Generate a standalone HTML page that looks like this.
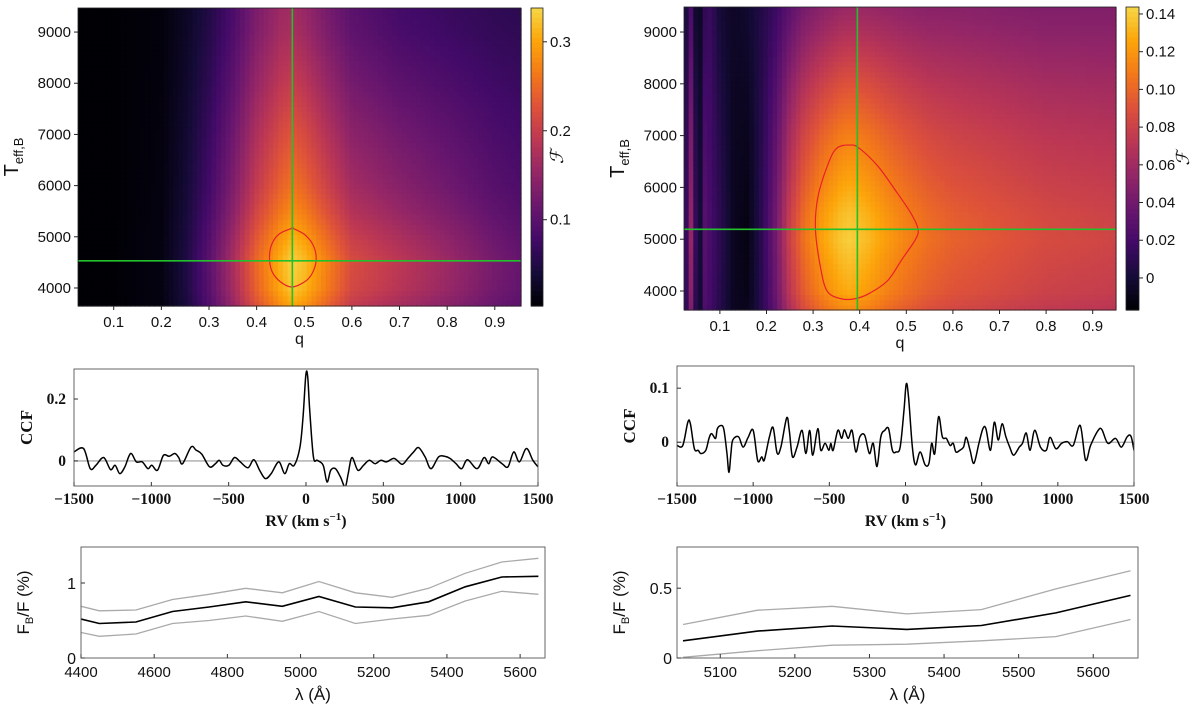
<!DOCTYPE html>
<html><head><meta charset="utf-8">
<style>
html,body{margin:0;padding:0;background:#fff;}
svg{display:block;}
.tk{font-family:"Liberation Sans","DejaVu Sans",sans-serif;font-size:15px;fill:#111;}
.sf{font-family:"Liberation Serif",serif;font-weight:bold;font-size:15.5px;fill:#111;}
</style></head>
<body>
<svg id="fig" width="1200" height="707" viewBox="0 0 1200 707" xmlns="http://www.w3.org/2000/svg"></svg>
<script>
// ---------- DATA ----------
const hmA_q      = [0.025,0.1,0.2,0.25,0.3,0.35,0.4,0.45,0.475,0.5,0.55,0.6,0.7,0.8,0.9,0.955];
const hmA_top    = [0.004,0.004,0.008,0.025,0.05,0.085,0.13,0.16,0.165,0.155,0.125,0.1,0.08,0.07,0.062,0.06];
const hmA_peak   = [0.004,0.004,0.012,0.045,0.1,0.17,0.25,0.31,0.335,0.32,0.27,0.22,0.19,0.16,0.125,0.11];
const hmA_T      = [3648,4000,4500,5000,5500,6000,7000,8000,9000,9470];
const hmA_w      = [0.8,0.95,1,0.85,0.68,0.55,0.38,0.2,0.04,0];
const bestA      = [0.475,4530];
const contA_q    = [0.475,0.5,0.518,0.525,0.52,0.505,0.475,0.45,0.432,0.427,0.432,0.448,0.475];
const contA_T    = [5170,5050,4850,4600,4350,4150,4020,4120,4330,4600,4860,5060,5170];
const hmB_q      = [0.023,0.03,0.04,0.05,0.055,0.065,0.08,0.1,0.13,0.16,0.19,0.22,0.25,0.28,0.32,0.36,0.38,0.42,0.46,0.5,0.55,0.6,0.7,0.8,0.95];
const hmB_top    = [0.0,0.005,0.025,-0.01,-0.012,0.01,0.015,0.0,-0.006,-0.002,0.006,0.016,0.03,0.042,0.05,0.056,0.057,0.056,0.054,0.052,0.05,0.05,0.048,0.046,0.046];
const hmB_peak   = [0.03,0.01,0.065,0.0,-0.012,0.03,0.02,0.01,-0.008,-0.012,0.01,0.04,0.08,0.105,0.125,0.138,0.141,0.133,0.122,0.113,0.104,0.098,0.092,0.086,0.082];
const hmB_T      = [3633,4000,5000,5500,6000,7000,8000,9000,9483];
const hmB_w      = [0.7,0.85,1,0.95,0.85,0.65,0.4,0.12,0];
const bestB      = [0.395,5190];
const contB_q    = [0.38,0.4,0.44,0.48,0.51,0.525,0.52,0.49,0.46,0.42,0.39,0.36,0.33,0.315,0.305,0.31,0.33,0.35];
const contB_T    = [6820,6750,6400,5900,5500,5200,5000,4600,4200,3950,3850,3850,4000,4500,5200,5800,6400,6750];
const ccfA_rv = [-1500,-1438,-1395,-1358,-1308,-1264,-1234,-1204,-1171,-1134,-1097,-1059,-1022,-997,-960,-922,-885,-848,-823,-798,-743,-711,-674,-624,-586,-561,-537,-499,-462,-425,-375,-337,-300,-263,-225,-176,-138,-108,-76,-39,-19,-1,11,24,48,73,111,136,160,190,223,253,273,297,335,372,409,447,484,521,571,621,658,696,728,770,808,857,895,932,970,1007,1044,1106,1151,1181,1206,1268,1306,1343,1380,1425,1467,1500];
const ccfA_v  = [0.029,0.040,-0.025,-0.014,0.011,-0.028,-0.014,-0.041,-0.019,0.024,-0.003,-0.003,-0.025,-0.014,-0.030,0.018,0.015,0.024,0.011,-0.009,0.045,0.035,0.022,-0.019,-0.009,0.002,-0.014,-0.014,0.011,-0.003,-0.022,0.004,-0.030,-0.057,-0.041,-0.003,-0.041,-0.009,-0.014,0.045,0.143,0.278,0.272,0.164,0.013,0.002,-0.014,-0.068,-0.030,-0.025,-0.052,-0.084,-0.041,0.011,-0.030,-0.014,0.002,-0.009,0.002,-0.003,0.008,-0.011,0.008,0.029,0.043,0.013,-0.025,0.013,0.015,0.008,-0.009,-0.025,0.004,-0.025,0.011,-0.009,0.013,-0.009,-0.019,0.029,-0.003,0.040,0.002,-0.019];
const ccfB_rv = [-1500,-1462,-1429,-1412,-1386,-1361,-1343,-1311,-1290,-1273,-1247,-1235,-1210,-1192,-1172,-1159,-1146,-1134,-1096,-1066,-1033,-1000,-970,-944,-927,-894,-869,-843,-818,-780,-763,-742,-712,-679,-654,-629,-609,-576,-556,-528,-503,-490,-475,-444,-419,-401,-376,-351,-326,-300,-268,-237,-212,-187,-162,-136,-111,-86,-61,-35,-10,5,20,45,66,96,129,154,172,192,217,242,268,293,313,331,356,381,399,424,449,482,508,528,558,583,609,634,659,684,710,747,768,793,818,848,886,924,949,987,1025,1063,1101,1147,1182,1215,1265,1290,1328,1379,1417,1455,1480,1500];
const ccfB_v  = [-0.006,-0.006,0.037,0.034,-0.012,-0.015,-0.021,-0.015,0.007,0.016,0.007,0.025,0.031,0.023,-0.021,-0.056,-0.021,0.004,0.010,-0.009,0.009,0.022,-0.034,-0.027,-0.033,0.009,0.027,-0.020,-0.009,0.045,0.022,-0.027,-0.009,0.022,-0.021,0.022,-0.024,0.025,-0.015,-0.002,-0.015,-0.002,-0.015,0.022,0.007,0.023,0.007,0.022,-0.018,0.010,0.013,-0.021,-0.002,-0.045,0.010,0.022,0.025,-0.015,-0.018,-0.009,0.059,0.108,0.083,-0.009,-0.042,-0.018,-0.042,-0.039,-0.002,-0.021,0.047,0.010,0.007,-0.006,-0.002,-0.018,-0.015,-0.009,0.009,-0.015,-0.039,-0.002,0.025,0.025,-0.015,0.037,0.004,0.034,0.010,-0.009,-0.024,-0.009,-0.002,0.017,-0.015,0.022,-0.009,-0.015,0.009,-0.012,-0.002,0.001,-0.006,0.031,-0.033,-0.006,0.022,0.023,-0.002,0.007,-0.009,0.010,0.011,-0.015];
const frA_lam = [4400,4450,4550,4650,4750,4850,4950,5050,5150,5250,5350,5450,5550,5650];
const frA_mid = [0.52,0.46,0.48,0.62,0.68,0.75,0.69,0.82,0.68,0.67,0.75,0.95,1.08,1.09];
const frA_hi  = [0.69,0.63,0.64,0.78,0.85,0.93,0.87,1.02,0.87,0.81,0.93,1.13,1.28,1.33];
const frA_lo  = [0.34,0.29,0.32,0.46,0.50,0.56,0.49,0.62,0.46,0.52,0.57,0.76,0.89,0.85];
const frB_lam = [5050,5150,5250,5350,5450,5550,5650];
const frB_mid = [0.123,0.193,0.229,0.205,0.233,0.323,0.448];
const frB_hi  = [0.24,0.342,0.37,0.316,0.347,0.495,0.625];
const frB_lo  = [0.005,0.052,0.092,0.099,0.123,0.153,0.276];
const qTicks   = [0.1,0.2,0.3,0.4,0.5,0.6,0.7,0.8,0.9];
const TTicks   = [4000,5000,6000,7000,8000,9000];
const cbATicks = [0.1,0.2,0.3];
const cbBTicks = [0,0.02,0.04,0.06,0.08,0.10,0.12,0.14];
const rvTicks  = [-1500,-1000,-500,0,500,1000,1500];
const ccfATicks= [0,0.2];
const ccfBTicks= [0,0.1];
const lamATicks= [4400,4600,4800,5000,5200,5400,5600];
const lamBTicks= [5100,5200,5300,5400,5500,5600];
const frATicks = [0,1];
const frBTicks = [0,0.5];

// ---------- HELPERS ----------
const NS="http://www.w3.org/2000/svg";
const svg=document.getElementById('fig');
function mk(tag,attrs,parent){const e=document.createElementNS(NS,tag);for(const k in attrs)e.setAttribute(k,attrs[k]);(parent||svg).appendChild(e);return e;}
function lin(d0,d1,r0,r1){return v=>r0+(v-d0)/(d1-d0)*(r1-r0);}
function interp(xs,ys,x){if(x<=xs[0])return ys[0];for(let i=1;i<xs.length;i++){if(x<=xs[i]){const t=(x-xs[i-1])/(xs[i]-xs[i-1]);return ys[i-1]+t*(ys[i]-ys[i-1]);}}return ys[ys.length-1];}
const INF=[[0,0,0,4],[0.1,22,11,57],[0.2,66,10,104],[0.3,106,23,110],[0.4,147,38,103],[0.5,188,55,84],[0.6,221,81,58],[0.7,243,120,25],[0.8,252,165,10],[0.9,246,215,70],[1,252,255,164]];
function cmap(t){t=Math.max(0,Math.min(1,t))*0.9;for(let i=1;i<INF.length;i++){if(t<=INF[i][0]){const a=INF[i-1],b=INF[i],f=(t-a[0])/(b[0]-a[0]);return `rgb(${Math.round(a[1]+f*(b[1]-a[1]))},${Math.round(a[2]+f*(b[2]-a[2]))},${Math.round(a[3]+f*(b[3]-a[3]))})`;}}return 'rgb(252,255,164)';}
function smoothPath(pts,closed){
  const n=pts.length;const P=i=>closed?pts[(i+n)%n]:pts[Math.max(0,Math.min(n-1,i))];
  let d=`M${pts[0][0]},${pts[0][1]}`;const m=closed?n:n-1;
  for(let i=0;i<m;i++){const p0=P(i-1),p1=P(i),p2=P(i+1),p3=P(i+2);const c1x=p1[0]+(p2[0]-p0[0])/6,c1y=p1[1]+(p2[1]-p0[1])/6,c2x=p2[0]-(p3[0]-p1[0])/6,c2y=p2[1]-(p3[1]-p1[1])/6;d+=` C${c1x.toFixed(2)},${c1y.toFixed(2)} ${c2x.toFixed(2)},${c2y.toFixed(2)} ${p2[0].toFixed(2)},${p2[1].toFixed(2)}`;}
  return d+(closed?' Z':'');}
function txt(x,y,s,cls,anchor,parent,extra){const t=mk('text',Object.assign({x:x,y:y,class:cls,'text-anchor':anchor||'middle'},extra||{}),parent);t.textContent=s;return t;}

// ---------- HEATMAP ----------
function heatmap(name,box,qr,Tr,cr,qs,top,peak,Ts,ws,best,cq,cT,cb,cbTicks,cbFmt,cbLabOff){
  const g=mk('g',{});
  
  
  const X=lin(qr[0],qr[1],box[0],box[2]), Y=lin(Tr[0],Tr[1],box[3],box[1]);
  const dq=0.01, dT=100;
  for(let q=qr[0];q<qr[1];q+=dq){
    const a=interp(qs,top,q+dq/2), b=interp(qs,peak,q+dq/2);
    for(let T=Tr[0];T<Tr[1];T+=dT){
      const w=interp(Ts,ws,T+dT/2); const v=a+w*(b-a);
      const x0=X(q),x1=X(Math.min(q+dq,qr[1])),y0=Y(Math.min(T+dT,Tr[1])),y1=Y(T);
      const r=mk('rect',{x:x0.toFixed(2),y:y0.toFixed(2),width:(x1-x0+0.6).toFixed(2),height:(y1-y0+0.6).toFixed(2),fill:cmap((v-cr[0])/(cr[1]-cr[0]))},g);
      
      
    }
  }
  const cp=mk('path',{d:smoothPath(cq.map((q,i)=>[X(q),Y(cT[i])]),true),fill:'none',stroke:'#e8202a','stroke-width':1.2},g);
  
  
  const vl=mk('line',{x1:X(best[0]),x2:X(best[0]),y1:box[1],y2:box[3],stroke:'#22c02a','stroke-width':1.6},g);
  
  
  const hl=mk('line',{x1:box[0],x2:box[2],y1:Y(best[1]),y2:Y(best[1]),stroke:'#22c02a','stroke-width':1.6},g);
  
  
  mk('rect',{x:box[0],y:box[1],width:box[2]-box[0],height:box[3]-box[1],fill:'none',stroke:'#222','stroke-width':0.8},g);
  qTicks.forEach(q=>{mk('line',{x1:X(q),x2:X(q),y1:box[3],y2:box[3]+4,stroke:'#222'},g);const t=txt(X(q),box[3]+21,q.toFixed(1),'tk','middle',g);});
  TTicks.forEach(T=>{mk('line',{x1:box[0]-4,x2:box[0],y1:Y(T),y2:Y(T),stroke:'#222'},g);const t=txt(box[0]-7,Y(T)+5,String(T),'tk','end',g);});
  const xl=txt((box[0]+box[2])/2,box[3]+38,'q','tk','middle',g,{style:'font-size:16px'});
  
  
  const yl=mk('text',{x:0,y:0,class:'tk','text-anchor':'middle',transform:`translate(${box[0]-60},${(box[1]+box[3])/2}) rotate(-90)`,style:'font-size:20px'},g);
  yl.innerHTML='T<tspan dy="5" font-size="13">eff,B</tspan>';
  
  
  const cg=mk('g',{},g);
  
  
  const CY=lin(cr[0],cr[1],cb[3],cb[1]); const n=60;
  for(let i=0;i<n;i++){const y0=cb[1]+(cb[3]-cb[1])*i/n;mk('rect',{x:cb[0],y:y0,width:cb[2]-cb[0],height:(cb[3]-cb[1])/n+0.6,fill:cmap(1-(i+0.5)/n)},cg);}
  mk('rect',{x:cb[0],y:cb[1],width:cb[2]-cb[0],height:cb[3]-cb[1],fill:'none',stroke:'#222','stroke-width':0.8},cg);
  cbTicks.forEach(v=>{mk('line',{x1:cb[2],x2:cb[2]+4,y1:CY(v),y2:CY(v),stroke:'#222'},cg);txt(cb[2]+7,CY(v)+5,cbFmt(v),'tk','start',cg);});
  const fl=mk('text',{x:0,y:0,class:'tk','text-anchor':'middle',transform:`translate(${cb[2]+cbLabOff},${(cb[1]+cb[3])/2}) rotate(-90)`,style:'font-family:"DejaVu Serif",serif;font-style:italic;font-size:18px'},cg);
  fl.textContent='ℱ';
  
  
}
heatmap('heatmap-left',[78,8,521,306],[0.025,0.955],[3648,9470],[0.003,0.338],hmA_q,hmA_top,hmA_peak,hmA_T,hmA_w,bestA,contA_q,contA_T,[531,8,543,306],cbATicks,v=>v.toFixed(1),20);
heatmap('heatmap-right',[684,7,1116,310],[0.023,0.95],[3633,9483],[-0.017,0.1437],hmB_q,hmB_top,hmB_peak,hmB_T,hmB_w,bestB,contB_q,contB_T,[1126,7,1139,310],cbBTicks,v=>v===0?'0':v.toFixed(2),50);

// ---------- CCF ----------
function ccf(name,box,vr,rv,v,yt,fmt){
  const g=mk('g',{});
  
  
  const X=lin(-1500,1500,box[0],box[2]),Y=lin(vr[0],vr[1],box[3],box[1]);
  const cid=name+'-clip';const cp=mk('clipPath',{id:cid},g);mk('rect',{x:box[0],y:box[1],width:box[2]-box[0],height:box[3]-box[1]},cp);
  const zl=mk('line',{x1:box[0],x2:box[2],y1:Y(0),y2:Y(0),stroke:'#aaa','stroke-width':1.3},g);
  
  
  const p=mk('path',{d:smoothPath(rv.map((r,i)=>[X(r),Y(v[i])]),false),fill:'none',stroke:'#000','stroke-width':1.5,'clip-path':`url(#${cid})`},g);
  
  
  mk('rect',{x:box[0],y:box[1],width:box[2]-box[0],height:box[3]-box[1],fill:'none',stroke:'#555','stroke-width':0.9},g);
  rvTicks.forEach(r=>{mk('line',{x1:X(r),x2:X(r),y1:box[3],y2:box[3]-4,stroke:'#333'},g);txt(X(r),box[3]+18,(r<0?'−':'')+Math.abs(r),'sf','middle',g);});
  yt.forEach(t=>{mk('line',{x1:box[0],x2:box[0]+4,y1:Y(t),y2:Y(t),stroke:'#333'},g);txt(box[0]-8,Y(t)+5,fmt(t),'sf','end',g);});
  const xl=txt((box[0]+box[2])/2,box[3]+40,'','sf','middle',g,{style:'font-size:16px'});
  xl.innerHTML='RV (km s<tspan dy="-6" font-size="11">−1</tspan><tspan dy="6">)</tspan>';
  
  
  const yl=mk('text',{x:0,y:0,class:'sf','text-anchor':'middle',transform:`translate(${box[0]-42},${(box[1]+box[3])/2}) rotate(-90)`,style:'font-size:17px'},g);
  yl.textContent='CCF';
  
  
}
ccf('ccf-left',[74,369,538,486],[-0.081,0.297],ccfA_rv,ccfA_v,ccfATicks,v=>v===0?'0':v.toFixed(1));
ccf('ccf-right',[677,366,1134,486],[-0.081,0.141],ccfB_rv,ccfB_v,ccfBTicks,v=>v===0?'0':v.toFixed(1));

// ---------- FLUX RATIO ----------
function flux(name,box,lr,fr,lam,mid,hi,lo,xt,yt,fmt){
  const g=mk('g',{});
  
  
  const X=lin(lr[0],lr[1],box[0],box[2]),Y=lin(fr[0],fr[1],box[3],box[1]);
  const cid=name+'-clip';const cp=mk('clipPath',{id:cid},g);mk('rect',{x:box[0],y:box[1],width:box[2]-box[0],height:box[3]-box[1]},cp);
  [[hi,'upper-bound'],[lo,'lower-bound']].forEach(([arr,n])=>{const l=mk('polyline',{points:lam.map((x,i)=>X(x).toFixed(1)+','+Y(arr[i]).toFixed(1)).join(' '),fill:'none',stroke:'#aaa','stroke-width':1.3,'clip-path':`url(#${cid})`},g);});
  const m=mk('polyline',{points:lam.map((x,i)=>X(x).toFixed(1)+','+Y(mid[i]).toFixed(1)).join(' '),fill:'none',stroke:'#000','stroke-width':1.6,'clip-path':`url(#${cid})`},g);
  
  
  mk('rect',{x:box[0],y:box[1],width:box[2]-box[0],height:box[3]-box[1],fill:'none',stroke:'#555','stroke-width':0.9},g);
  xt.forEach(x=>{mk('line',{x1:X(x),x2:X(x),y1:box[3],y2:box[3]-4,stroke:'#333'},g);txt(X(x),box[3]+19,String(x),'tk','middle',g);});
  yt.forEach(y=>{mk('line',{x1:box[0],x2:box[0]+4,y1:Y(y),y2:Y(y),stroke:'#333'},g);txt(box[0]-5,Y(y)+6,fmt(y),'tk','end',g,{style:'font-size:16px'});});
  const xl=txt((box[0]+box[2])/2,box[3]+42,'λ (Å)','tk','middle',g,{style:'font-size:17px'});
  
  
  const yl=mk('text',{x:0,y:0,class:'tk','text-anchor':'middle',transform:`translate(${box[0]-52},${(box[1]+box[3])/2}) rotate(-90)`,style:'font-size:17px'},g);
  yl.innerHTML='F<tspan dy="4" font-size="11">B</tspan><tspan dy="-4">/F (%)</tspan>';
  
  
}
flux('flux-ratio-left',[81,547,545,658],[4400,5668],[0,1.48],frA_lam,frA_mid,frA_hi,frA_lo,lamATicks,frATicks,v=>String(v));
flux('flux-ratio-right',[677,547,1138,658],[5042,5660],[0,0.795],frB_lam,frB_mid,frB_hi,frB_lo,lamBTicks,frBTicks,v=>v===0?'0':v.toFixed(1));
</script>
</body></html>
